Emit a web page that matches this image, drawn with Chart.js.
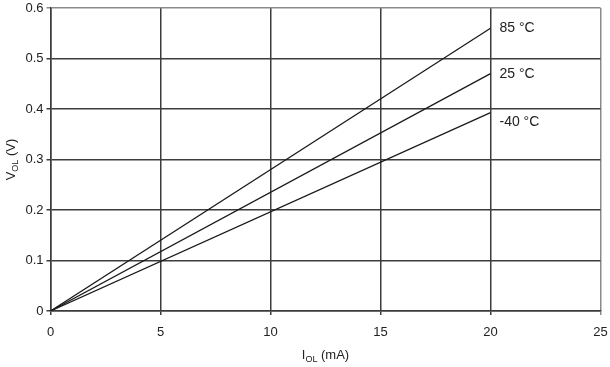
<!DOCTYPE html>
<html>
<head>
<meta charset="utf-8">
<script src="https://cdn.jsdelivr.net/npm/chart.js@4/dist/chart.umd.min.js"></script>
<style>
  html, body { margin: 0; padding: 0; background: #fff; }
  #wrap { width: 610px; height: 367px; }
</style>
</head>
<body>
<div id="wrap"><canvas id="myChart" width="610" height="367"></canvas></div>
<script>
'use strict';

// ***** DATA *****
let currentMA = [0, 20];          // I_OL (mA)
let volt85 = [0, 0.56];           // V_OL at 85 °C
let volt25 = [0, 0.47];           // V_OL at 25 °C
let voltMinus40 = [0, 0.393];     // V_OL at -40 °C
let seriesNames = ['85 °C', '25 °C', '-40 °C'];
let xTicks = [0, 5, 10, 15, 20, 25];
let yTicks = [0, 0.1, 0.2, 0.3, 0.4, 0.5, 0.6];

const FONT = 'Liberation Sans, Arial, sans-serif';

function toPoints(ys) {
  let pts = [];
  for (let i = 0; i < currentMA.length; i++) {
    pts.push({ x: currentMA[i], y: ys[i] });
  }
  return pts;
}

function makeSet(label, ys) {
  return {
    label: label,
    data: toPoints(ys),
    showLine: true,
    borderColor: '#1a1a1a',
    borderWidth: 1.3,
    pointRadius: 0,
    fill: false
  };
}

// draws text with a subscript part: main + sub + rest
function drawSub(c, x, y, main, sub, rest) {
  c.font = '13px ' + FONT;
  let w1 = c.measureText(main).width;
  c.font = '9px ' + FONT;
  let w2 = c.measureText(sub).width;
  c.font = '13px ' + FONT;
  let w3 = c.measureText(rest).width;
  let start = x - (w1 + w2 + w3) / 2;
  c.textAlign = 'left';
  c.textBaseline = 'alphabetic';
  c.fillText(main, start, y);
  c.font = '9px ' + FONT;
  c.fillText(sub, start + w1, y + 3);
  c.font = '13px ' + FONT;
  c.fillText(rest, start + w1 + w2, y);
}

// labels at line ends and axis titles
const annotate = {
  id: 'annotate',
  afterDraw(chart) {
    const c = chart.ctx;
    const xs = chart.scales.x;
    const ys = chart.scales.y;
    c.save();
    c.fillStyle = '#222';
    c.font = '14px ' + FONT;
    c.textAlign = 'left';
    c.textBaseline = 'middle';
    let nudges = [0, 0, 10];
    chart.data.datasets.forEach(function (ds, i) {
      let last = ds.data[ds.data.length - 1];
      let px = xs.getPixelForValue(last.x);
      let py = ys.getPixelForValue(last.y);
      c.fillText(seriesNames[i], px + 9, py + nudges[i]);
    });

    // x title
    drawSub(c, (chart.chartArea.left + chart.chartArea.right) / 2, 359, 'I', 'OL', ' (mA)');

    // y title, rotated
    c.translate(15, (chart.chartArea.top + chart.chartArea.bottom) / 2);
    c.rotate(-Math.PI / 2);
    drawSub(c, 0, 0, 'V', 'OL', ' (V)');
    c.restore();
  }
};

function gridColor(last) {
  return function (context) {
    if (context.tick && context.tick.value === last) {
      return '#8a8a8a';
    }
    return '#3c3c3c';
  };
}

const ctx = document.getElementById('myChart').getContext('2d');

const chartObj = {
  type: 'scatter',
  data: {
    datasets: [
      makeSet(seriesNames[0], volt85),
      makeSet(seriesNames[1], volt25),
      makeSet(seriesNames[2], voltMinus40)
    ]
  },
  options: {
    responsive: false,
    animation: false,
    devicePixelRatio: 1,
    layout: { padding: { top: 8, right: 9.5, left: 0, bottom: 0 } },
    plugins: {
      legend: { display: false },
      tooltip: { enabled: false }
    },
    scales: {
      x: {
        type: 'linear',
        min: 0,
        max: 25,
        afterBuildTicks: function (scale) {
          scale.ticks = xTicks.map(function (v) { return { value: v }; });
        },
        afterFit: function (scale) {
          scale.height = 56;
          scale.paddingLeft = 0;
          scale.paddingRight = 0;
        },
        grid: {
          color: gridColor(25),
          lineWidth: 1.5,
          tickLength: 4,
          drawTicks: true
        },
        border: { display: true, color: '#3c3c3c', width: 1.5 },
        ticks: {
          color: '#222',
          font: { family: FONT, size: 13 },
          padding: 10,
          maxRotation: 0
        }
      },
      y: {
        type: 'linear',
        min: 0,
        max: 0.6,
        afterBuildTicks: function (scale) {
          scale.ticks = yTicks.map(function (v) { return { value: v }; });
        },
        afterFit: function (scale) {
          scale.width = 50.5;
          scale.paddingTop = 0;
          scale.paddingBottom = 0;
        },
        grid: {
          color: gridColor(0.6),
          lineWidth: 1.5,
          tickLength: 4
        },
        border: { display: true, color: '#3c3c3c', width: 1.5 },
        ticks: {
          color: '#222',
          font: { family: FONT, size: 13 },
          padding: 3,
          callback: function (v) { return v === 0 ? '0' : v.toFixed(1); }
        }
      }
    }
  },
  plugins: [annotate]
};

const myChart = new Chart(ctx, chartObj); // eslint-disable-line
</script>
</body>
</html>
